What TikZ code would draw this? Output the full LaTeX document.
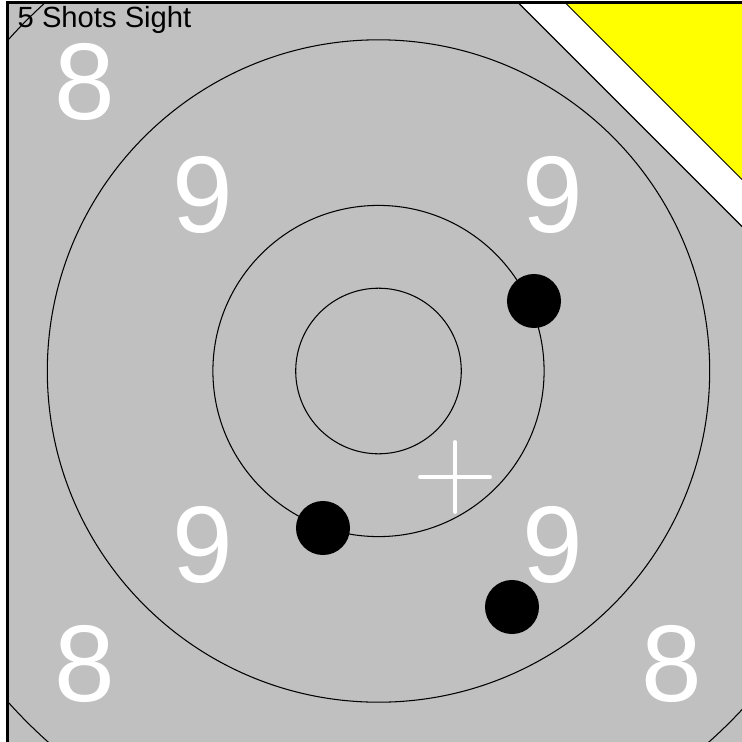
\documentclass[tikz,border=0pt]{standalone}
\usepackage{fontspec}
\setmainfont{Liberation Sans}
\usetikzlibrary{positioning}
\definecolor{tgrey}{RGB}{192,192,192}
\definecolor{tyellow}{RGB}{255,255,0}

\begin{document}
\begin{tikzpicture}[x=0.01cm,y=-0.01cm,
 ring/.style={draw=black,line width=0.3pt},
 shot/.style={circle,fill=black,minimum size=0.54cm,inner sep=0pt},
 num/.style={text=white,inner sep=0pt,font=\fontsize{31}{31}\selectfont},
 aimline/.style={draw=white,line width=1.1pt,line cap=round}]
\useasboundingbox (0,0) rectangle (742,742);
\fill[white] (0,0) rectangle (742,742);
\fill[tgrey] (7.5,2.5) rectangle (742,742);
\coordinate (c) at (378.5,371);
\begin{scope}
  \clip (7.5,2.5) rectangle (742,742);
  \foreach \r in {0.8275,1.655,3.31,4.965}
    \draw[ring] (c) circle[radius=\r cm];
\end{scope}
% corner bands
\fill[white] (518,2.5) -- (742,226.5) -- (742,2.5) -- cycle;
\draw[line width=0.4pt] (518,2.5) -- (742,226.5);
\fill[tyellow] (565,2.5) -- (742,179.5) -- (742,2.5) -- cycle;
\draw[line width=0.3pt] (565,2.5) -- (742,179.5);
% frame
\draw[line width=0.6pt] (7.5,742) -- (7.5,2.5) -- (742,2.5);
% ring numbers
\node[num] (n8tl) at (85,82) {8};
\node[num] (n8bl) at (85,664) {8};
\node[num] (n8br) at (672,664) {8};
\node[num] (n9tl) at (203,195) {9};
\node[num] (n9tr) at (553,195) {9};
\node[num] (n9bl) at (203,545) {9};
\node[num] (n9br) at (553,545) {9};
% shots
\node[shot] (s1) at (534,301) {};
\node[shot] (s2) at (323,528) {};
\node[shot] (s3) at (512,607) {};
% aim mark
\coordinate (aim) at (455,477);
\draw[aimline] (aim) ++(0,-35) -- ++(0,70);
\draw[aimline] (aim) ++(-35,0) -- ++(70,0);
\node[anchor=base west,inner sep=0pt,font=\fontsize{8.3}{10}\selectfont] (title) at (17,27) {5 Shots Sight};
\end{tikzpicture}
\end{document}
